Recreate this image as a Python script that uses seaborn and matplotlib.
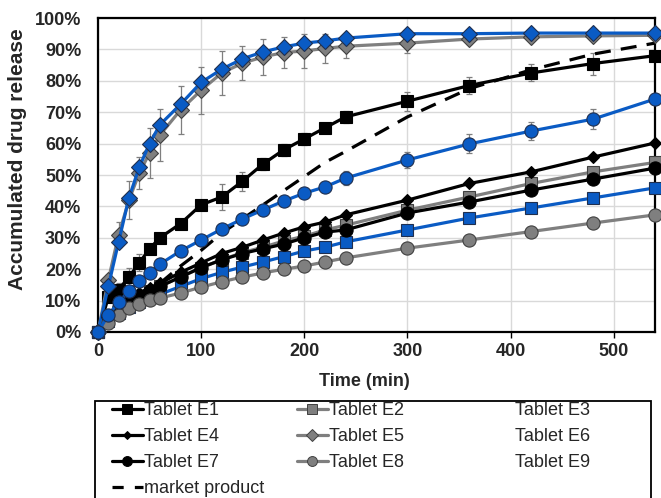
import matplotlib
matplotlib.use("Agg")
import matplotlib.pyplot as plt
from matplotlib.lines import Line2D
from matplotlib.patches import Rectangle
from matplotlib.ticker import FuncFormatter, MultipleLocator
import seaborn as sns
import numpy as np
import pandas as pd

sns.set_theme(style="white")
plt.rcParams['font.family'] = ['Liberation Sans', 'DejaVu Sans']

time = [0, 10, 20, 30, 40, 50, 60, 80, 100, 120, 140, 160, 180, 200, 220, 240, 300, 360, 420, 480, 540]

E1 = [0, 11, 13.5, 17.5, 22, 26.5, 30, 34.5, 40.5, 43, 48, 53.5, 58, 61.5, 65, 68.5, 73.5, 78.5, 82.5, 85.5, 88]
E2 = [0, 4.5, 7.5, 9.5, 11.5, 13, 14.5, 17.5, 20.5, 23, 25.3, 27, 29, 30.5, 32.5, 34, 38.8, 43, 47.3, 51, 54]
E3 = [0, 3.5, 6, 8, 9.5, 11, 12, 14.5, 17, 19, 20.7, 22.3, 24, 25.8, 27, 28.7, 32.5, 36.3, 39.5, 42.7, 45.9]
E4 = [0, 5.5, 9, 11, 12.5, 14, 15.5, 19, 22, 25, 27, 29.3, 31.5, 33.5, 35, 37.3, 42, 47.3, 51, 55.7, 60.2]
E5 = [0, 16.5, 31, 42, 50.6, 57, 62.7, 70.7, 77, 82.5, 85.6, 87.6, 89, 89.5, 90.3, 91, 92, 93.3, 94, 94.3, 94.5]
E6 = [0, 14.5, 28.7, 42.7, 52.5, 60, 66, 72.5, 79.5, 83.7, 87, 89.2, 90.8, 92, 92.7, 93.6, 95, 95, 95.2, 95.2, 95.2]
E7 = [0, 5, 8, 10, 11.5, 13, 14.5, 17.5, 20.5, 23, 25, 26.5, 28, 30, 31.8, 32.5, 37.9, 41.4, 45.2, 48.7, 52.2]
E8 = [0, 3, 5.5, 7.6, 9, 10.2, 10.8, 12.4, 14.3, 16, 17.5, 18.8, 20, 21, 22.3, 23.6, 26.7, 29.3, 32, 34.7, 37.3]
E9 = [0, 5.4, 9.5, 13, 16.3, 18.8, 21.6, 25.8, 29.3, 32.8, 36, 38.9, 41.7, 44.2, 46.2, 49, 54.8, 59.9, 64, 67.8, 74.2]
market = [0, 3, 5.5, 8, 10.5, 13, 15.5, 21, 26, 31.5, 36, 40.5, 45, 49.5, 54, 57.5, 68.5, 77.5, 83.5, 88.5, 92]

E1_err = [0, 1, 2, 3, 2.7, 1.5, 1.5, 1, 1.5, 4, 3, 2, 2, 2, 1.5, 2, 3, 2.7, 2.7, 3.5, 1]
E5_err = [0, 1.5, 4, 6, 5, 8, 8.3, 7.6, 7.5, 7, 5.4, 5.6, 4.8, 5.3, 4.6, 3.8, 3, 1.5, 1, 1, 0.5]
E9_err = [0, 1, 1, 1, 1, 1, 1, 1, 1, 1, 1, 1, 1, 1, 1, 2.3, 2.6, 3, 3, 3.3, 1]

labels = ["Tablet E1", "Tablet E2", "Tablet E3", "Tablet E4", "Tablet E5",
          "Tablet E6", "Tablet E7", "Tablet E8", "Tablet E9", "market product"]

BLACK = "#000000"
GRAY = "#7F7F7F"
BLUE = "#0A5BC4"

series = [
    ("Tablet E1", E1, BLACK, "s", 9, "#000000"),
    ("Tablet E2", E2, GRAY, "s", 9, "#404040"),
    ("Tablet E3", E3, BLUE, "s", 9, "#1F2F4F"),
    ("Tablet E4", E4, BLACK, "D", 6, "#000000"),
    ("Tablet E5", E5, GRAY, "D", 8.5, "#404040"),
    ("Tablet E6", E6, BLUE, "D", 8.5, "#1F2F4F"),
    ("Tablet E7", E7, BLACK, "o", 9.5, "#000000"),
    ("Tablet E8", E8, GRAY, "o", 9.5, "#404040"),
    ("Tablet E9", E9, BLUE, "o", 9.5, "#1F2F4F"),
]

fig = plt.figure(figsize=(6.61, 4.98), dpi=100)
ax = fig.add_axes([98/661, 1-332/498, (655-98)/661, (332-18)/498])

lw = 2.3
for name, vals, col, mk, ms, ec in series:
    df = pd.DataFrame({"time": time, "release": vals})
    sns.lineplot(data=df, x="time", y="release", ax=ax, color=col, marker=mk,
                 markersize=ms, markeredgecolor=ec, markeredgewidth=0.8,
                 linewidth=lw, legend=False, zorder=3, clip_on=False)

dfm = pd.DataFrame({"time": time, "release": market})
sns.lineplot(data=dfm, x="time", y="release", ax=ax, color=BLACK, linewidth=lw,
             dashes=False, legend=False, zorder=2.9)
ax.lines[-1].set_dashes([5, 3.2])

for vals, err in [(E1, E1_err), (E5, E5_err), (E9, E9_err)]:
    ax.errorbar(time, vals, yerr=err, fmt="none", ecolor=GRAY, elinewidth=0.9,
                capsize=2.5, capthick=0.9, zorder=2.5)

ax.set_xlim(0, 540)
ax.set_ylim(0, 100)
ax.xaxis.set_major_locator(MultipleLocator(100))
ax.yaxis.set_major_locator(MultipleLocator(10))
ax.yaxis.set_major_formatter(FuncFormatter(lambda v, p: f"{v:.0f}%"))
ax.grid(True, color="#D9D9D9", linewidth=1.0, zorder=0)
ax.set_axisbelow(True)
for sp in ax.spines.values():
    sp.set_color("black")
    sp.set_linewidth(1.6)
    sp.set_zorder(2.8)
ax.tick_params(axis="x", direction="out", length=4, width=1, color="black", pad=4,
               labelsize=13, bottom=True)
ax.tick_params(axis="y", length=0, pad=12, labelsize=13, left=False)
for t in ax.get_xticklabels() + ax.get_yticklabels():
    t.set_fontweight("bold")
ax.set_xlabel("Time (min)", fontsize=13, fontweight="bold")
ax.set_ylabel("Accumulated drug release", fontsize=15, fontweight="bold")
ax.xaxis.set_label_coords((364-98)/557, -(382-332)/314)
ax.yaxis.set_label_coords((18-98)/557, (332-159)/314)
ax.xaxis.label.set_va("center")
ax.yaxis.label.set_va("center")

# Legend frame
fig.patches.append(Rectangle((95/661, -0.1), (651-95)/661, 1-401/498 + 0.1,
                             transform=fig.transFigure, fill=False,
                             edgecolor="black", linewidth=1.3))

def h(col, mk, ms, ec, visible=True):
    if not visible:
        return Line2D([], [], color="none", marker=None, linewidth=0)
    return Line2D([], [], color=col, marker=mk, markersize=ms * 0.75,
                  markeredgecolor=ec, markeredgewidth=0.7, linewidth=lw)

col1 = [h(BLACK, "s", 9, "#000"), h(BLACK, "D", 6, "#000"), h(BLACK, "o", 9.5, "#000"),
        Line2D([], [], color=BLACK, linewidth=lw, dashes=[3.5, 3.5])]
col2 = [h(GRAY, "s", 9, "#404040"), h(GRAY, "D", 8.5, "#404040"), h(GRAY, "o", 9.5, "#404040")]
col3 = [h(BLUE, "s", 9, "", False)] * 3

leg_kw = dict(frameon=False, fontsize=13, handlelength=1.7, handletextpad=0.05,
              borderpad=0, borderaxespad=0, labelspacing=0.5, loc="upper left")
top = 1 - 402/498
fig.legend(col1, [labels[0], labels[3], labels[6], labels[9]],
           bbox_to_anchor=(112/661, top), **leg_kw)
fig.legend(col2, [labels[1], labels[4], labels[7]],
           bbox_to_anchor=(297/661, top), **leg_kw)
fig.legend(col3, [labels[2], labels[5], labels[8]],
           bbox_to_anchor=(483/661, top), **leg_kw)

fig.savefig("out.png", dpi=100)
